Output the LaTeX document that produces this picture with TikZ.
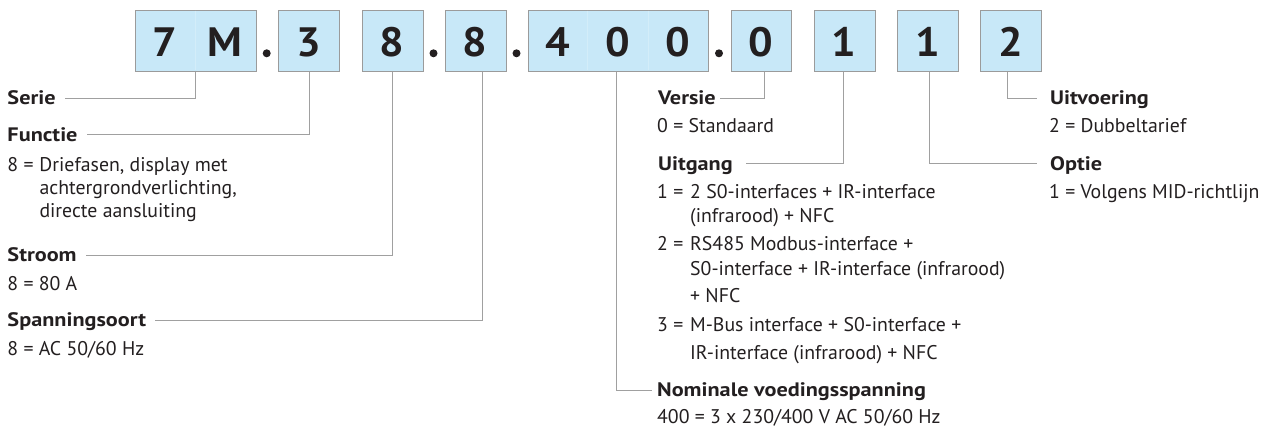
\documentclass[tikz,border=0pt]{standalone}
\usepackage{fontspec}
\setmainfont{PT Sans}
\newfontfamily\widebold{PT Sans}[FakeStretch=1.14]
\newfontfamily\digitfont{PT Sans}[FakeStretch=1.06]
\definecolor{boxfill}{HTML}{C8E8F8}
\definecolor{boxline}{HTML}{9B9B9B}
\definecolor{ink}{HTML}{231F20}
\definecolor{conngray}{HTML}{A0A0A0}
\begin{document}
\begin{tikzpicture}[x=1pt,y=-1pt,
  cell/.style={draw=boxline, fill=boxfill, line width=1.1pt, minimum height=60.7pt, inner sep=0pt, anchor=north west},
  digit/.style={anchor=base, inner sep=0pt, text=ink, font=\fontsize{41}{41}\digitfont\bfseries},
  divider/.style={draw=boxfill!80!white, line width=0.5pt},
  lab/.style={anchor=base west, inner sep=0pt, text=ink, font=\fontsize{19.8}{24}\selectfont},
  head/.style={anchor=base west, inner sep=0pt, text=ink, font=\fontsize{19.5}{24}\widebold\bfseries, text height=13pt, text depth=0pt},
  conn/.style={draw=conngray, line width=1.1pt}]
\useasboundingbox (0,0) rectangle (1267,428);
% boxes
\node[cell, minimum width=121pt] (b1) at (134.5,10) {};
\node[cell, minimum width=61pt] (b2) at (278,10) {};
\node[cell, minimum width=61pt] (b3) at (361.5,10) {};
\node[cell, minimum width=61pt] (b4) at (444.5,10) {};
\node[cell, minimum width=180.5pt] (b5) at (527.5,10) {};
\node[cell, minimum width=60.5pt] (b6) at (730.5,10) {};
\node[cell, minimum width=61pt] (b7) at (813.5,10) {};
\node[cell, minimum width=61pt] (b8) at (897,10) {};
\node[cell, minimum width=61pt] (b9) at (980,10) {};
\draw[divider] (195,10.6) -- (195,70.1);
\draw[divider] (587.7,10.6) -- (587.7,70.1);
\draw[divider] (647.8,10.6) -- (647.8,70.1);
% digits
\node[digit] (d1) at (164.75,57) {7};
\node[digit] (d2) at (225.25,57) {M};
\node[digit] (d3) at (308.5,57) {3};
\node[digit] (d4) at (392,57) {8};
\node[digit] (d5) at (475,57) {8};
\node[digit] (d6) at (557.6,57) {4};
\node[digit] (d7) at (617.8,57) {0};
\node[digit] (d8) at (677.9,57) {0};
\node[digit] (d9) at (760.75,57) {0};
\node[digit] (d10) at (844,57) {1};
\node[digit] (d11) at (927.5,57) {1};
\node[digit] (d12) at (1010.5,57) {2};
% dots
\fill[ink] (266.7,53.3) circle (4);
\fill[ink] (433.5,53.3) circle (4);
\fill[ink] (516.5,53.3) circle (4);
\fill[ink] (719,53.3) circle (4);
% left labels
\node[head] (serie) at (7.3,105) {Serie};
\node[head] (functie) at (7.3,141) {Functie};
\node[lab] (f1) at (7.3,171) {\makebox[32pt][l]{8 =}Driefasen, display met};
\node[lab] (f2) at (39.3,194) {achtergrondverlichting,};
\node[lab] (f3) at (39.3,217) {directe aansluiting};
\node[head] (stroom) at (7.3,261.7) {Stroom};
\node[lab] (s1) at (7.3,290) {8 = 80 A};
\node[head] (spanning) at (7.3,326.7) {Spanningsoort};
\node[lab] (sp1) at (7.3,355) {8 = AC 50/60 Hz};
% middle labels
\node[head] (versie) at (658,105) {Versie};
\node[lab] (v1) at (657,132.7) {0 = Standaard};
\node[head] (uitgang) at (658,170) {Uitgang};
\node[lab] (u1) at (657,198.3) {\makebox[33pt][l]{1 =}2 S0-interfaces + IR-interface};
\node[lab] (u1b) at (690,222) {(infrarood) + NFC};
\node[lab] (u2) at (657,250) {\makebox[33pt][l]{2 =}RS485 Modbus-interface +};
\node[lab] (u2b) at (690,275) {S0-interface + IR-interface (infrarood)};
\node[lab] (u2c) at (690,302) {+ NFC};
\node[lab] (u3) at (657,331.5) {\makebox[33pt][l]{3 =}M-Bus interface + S0-interface +};
\node[lab] (u3b) at (690,359.5) {IR-interface (infrarood) + NFC};
\node[head] (nominale) at (657,396.7) {Nominale voedingsspanning};
\node[lab] (n1) at (657,423.3) {400 = 3 x 230/400 V AC 50/60 Hz};
% right labels
\node[head] (uitvoering) at (1050,105) {Uitvoering};
\node[lab] (ui1) at (1049,132.7) {2 = Dubbeltarief};
\node[head] (optie) at (1050,170) {Optie};
\node[lab] (o1) at (1049,198.3) {1 = Volgens MID-richtlijn};
% connectors
\draw[conn] (b1.south) |- ([xshift=9pt]serie.east);
\draw[conn] (b2.south) |- ([xshift=9pt]functie.east);
\draw[conn] (b3.south) |- ([xshift=9pt]stroom.east);
\draw[conn] ([xshift=7pt]b4.south) |- ([xshift=9pt]spanning.east);
\draw[conn] ([xshift=-2pt]b5.south) |- ([xshift=-5pt]nominale.west);
\draw[conn] ([xshift=3pt]b6.south) |- ([xshift=4pt]versie.east);
\draw[conn] ([xshift=-1.5pt]b7.south) |- ([xshift=13pt]uitgang.east);
\draw[conn] ([xshift=1.5pt]b8.south) |- ([xshift=-13pt]optie.west);
\draw[conn] ([xshift=-3.5pt]b9.south) |- ([xshift=-13pt]uitvoering.west);
\end{tikzpicture}
\end{document}
